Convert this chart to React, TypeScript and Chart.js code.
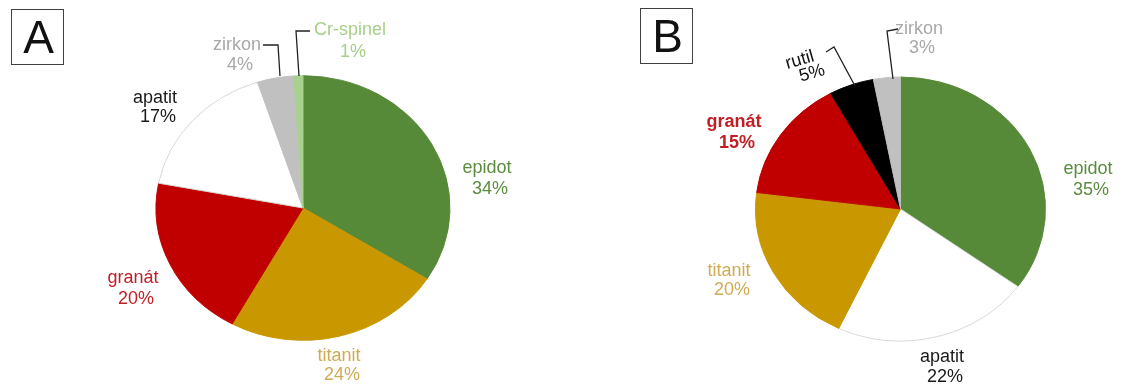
import React, { useEffect, useRef } from "react";
import { Chart, registerables } from "chart.js";

Chart.register(...registerables);

// ---- data ----
const categoriesA = ["epidot", "titanit", "granát", "apatit", "zirkon", "Cr-spinel"];
const valuesA = [34, 24, 20, 17, 4, 1];

const categoriesB = ["epidot", "apatit", "titanit", "granát", "rutil", "zirkon"];
const valuesB = [35, 22, 20, 15, 5, 3];

const panelA = "A";
const panelB = "B";

// ---- styles ----
const sliceColor: Record<string, string> = {
  epidot: "#568a38",
  titanit: "#c99700",
  "granát": "#c00000",
  apatit: "#ffffff",
  zirkon: "#c0c0c0",
  "Cr-spinel": "#a9d18e",
  rutil: "#000000",
};
const textColor: Record<string, string> = {
  epidot: "#5b8c3e",
  titanit: "#d0ab55",
  "granát": "#c01f26",
  apatit: "#1a1a1a",
  zirkon: "#a8a8a8",
  "Cr-spinel": "#a6cf8a",
  rutil: "#111111",
};

const FONT = '"Liberation Sans", Arial, sans-serif';
const W = 1137;
const H = 385;

type LabelPos = { name: string; x: number; y1: number; y2: number; rot?: number; bold?: boolean };

const labelsA: LabelPos[] = [
  { name: "epidot", x: 487, y1: 168, y2: 189 },
  { name: "titanit", x: 339, y1: 356, y2: 375 },
  { name: "granát", x: 133, y1: 278, y2: 299 },
  { name: "apatit", x: 155, y1: 98, y2: 117 },
  { name: "zirkon", x: 237, y1: 45, y2: 65 },
  { name: "Cr-spinel", x: 350, y1: 30, y2: 52 },
];
const labelsB: LabelPos[] = [
  { name: "epidot", x: 1088, y1: 169, y2: 190 },
  { name: "apatit", x: 942, y1: 357, y2: 377 },
  { name: "titanit", x: 729, y1: 271, y2: 290 },
  { name: "granát", x: 734, y1: 122, y2: 143, bold: true },
  { name: "rutil", x: 805, y1: 59, y2: 75, rot: -0.28 },
  { name: "zirkon", x: 919, y1: 29, y2: 48 },
];

const leadersA: number[][][] = [
  [[263, 45], [278, 45], [280, 76]],
  [[310, 31], [296, 31], [299, 76]],
];
const leadersB: number[][][] = [
  [[826, 52], [834, 47], [855, 86]],
  [[898, 29], [887, 31], [893, 79]],
];

type PieCfg = {
  categories: string[];
  values: number[];
  labels: LabelPos[];
  leaders: number[][][];
  padding: { left: number; right: number; top: number; bottom: number };
  squash: number;
  box: { x: number; y: number; w: number; h: number; letter: string };
};

const cfgA: PieCfg = {
  categories: categoriesA,
  values: valuesA,
  labels: labelsA,
  leaders: leadersA,
  padding: { left: 155.5, right: W - 450.5, top: 60.5, bottom: H - 355.5 },
  squash: 0.9,
  box: { x: 11.5, y: 9.5, w: 52, h: 55, letter: panelA },
};
const cfgB: PieCfg = {
  categories: categoriesB,
  values: valuesB,
  labels: labelsB,
  leaders: leadersB,
  padding: { left: 755, right: W - 1046, top: 63.5, bottom: H - 354.5 },
  squash: 0.91,
  box: { x: 640.5, y: 8.5, w: 52, h: 55, letter: panelB },
};

function makeChart(canvas: HTMLCanvasElement, cfg: PieCfg) {
  const squashPlugin = {
    id: "squash",
    beforeDatasetsDraw(chart: any) {
      const arc = chart.getDatasetMeta(0).data[0];
      if (!arc) return;
      const { x, y } = arc.getProps(["x", "y"], true);
      const ctx = chart.ctx;
      ctx.save();
      ctx.translate(x, y);
      ctx.scale(1, cfg.squash);
      ctx.translate(-x, -y);
    },
    afterDatasetsDraw(chart: any) {
      chart.ctx.restore();
    },
  };
  const labelPlugin = {
    id: "labels",
    afterDraw(chart: any) {
      const ctx: CanvasRenderingContext2D = chart.ctx;
      ctx.save();
      // leader lines
      ctx.strokeStyle = "#222222";
      ctx.lineWidth = 1.3;
      cfg.leaders.forEach((pts) => {
        ctx.beginPath();
        pts.forEach(([px, py], i) => (i === 0 ? ctx.moveTo(px, py) : ctx.lineTo(px, py)));
        ctx.stroke();
      });
      // labels
      ctx.textAlign = "center";
      ctx.textBaseline = "middle";
      cfg.labels.forEach((l) => {
        const idx = cfg.categories.indexOf(l.name);
        const val = cfg.values[idx];
        ctx.fillStyle = textColor[l.name];
        ctx.font = `${l.bold ? "bold " : ""}18px ${FONT}`;
        if (l.rot) {
          const cy = (l.y1 + l.y2) / 2;
          ctx.save();
          ctx.translate(l.x, cy);
          ctx.rotate(l.rot);
          ctx.fillText(l.name, -3, l.y1 - cy);
          ctx.fillText(`${val}%`, 5, l.y2 - cy);
          ctx.restore();
        } else {
          ctx.fillText(l.name, l.x, l.y1);
          ctx.fillText(`${val}%`, l.x + 3, l.y2);
        }
      });
      // panel box
      const b = cfg.box;
      ctx.strokeStyle = "#404040";
      ctx.lineWidth = 1;
      ctx.strokeRect(b.x, b.y, b.w, b.h);
      ctx.fillStyle = "#111111";
      ctx.font = `46px ${FONT}`;
      ctx.textAlign = "center";
      ctx.textBaseline = "alphabetic";
      ctx.fillText(b.letter, b.x + b.w / 2 + 1, b.y + 43);
      ctx.restore();
    },
  };

  return new Chart(canvas, {
    type: "pie",
    data: {
      labels: cfg.categories,
      datasets: [
        {
          data: cfg.values,
          backgroundColor: cfg.categories.map((c) => sliceColor[c]),
          borderColor: cfg.categories.map((c) => (c === "apatit" ? "#d6d6d6" : sliceColor[c])),
          borderWidth: 1,
        },
      ],
    },
    options: {
      responsive: false,
      animation: false,
      layout: { padding: cfg.padding },
      plugins: {
        legend: { display: false },
        tooltip: { enabled: false },
      },
    },
    plugins: [squashPlugin, labelPlugin],
  });
}

export default function App() {
  const refA = useRef<HTMLCanvasElement>(null);
  const refB = useRef<HTMLCanvasElement>(null);

  useEffect(() => {
    const a = makeChart(refA.current!, cfgA);
    const b = makeChart(refB.current!, cfgB);
    return () => {
      a.destroy();
      b.destroy();
    };
  }, []);

  const cs: React.CSSProperties = { position: "absolute", left: 0, top: 0, width: W, height: H };
  return (
    <div style={{ position: "fixed", left: 0, top: 0, width: W, height: H, background: "#ffffff" }}>
      <canvas ref={refA} width={W} height={H} style={cs} />
      <canvas ref={refB} width={W} height={H} style={cs} />
    </div>
  );
}
